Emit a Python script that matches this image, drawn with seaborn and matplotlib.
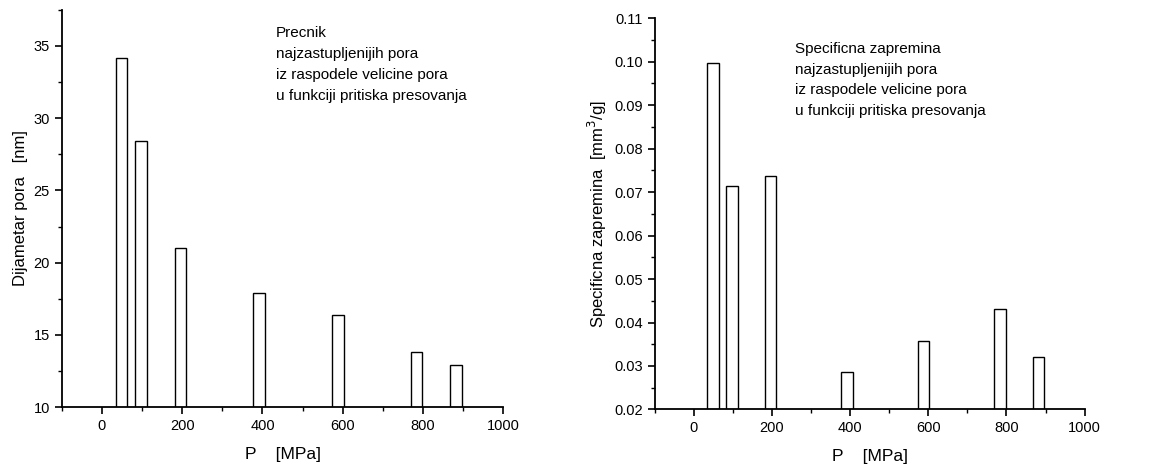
import pandas as pd
import numpy as np
import matplotlib
matplotlib.use('Agg')
import matplotlib.pyplot as plt
import seaborn as sns
from matplotlib.ticker import MultipleLocator

# pritisak presovanja [MPa]
pritisak = [49, 98, 196, 392, 588, 784, 882]
# precnik najzastupljenijih pora [nm]
precnik = [34.2, 28.4, 21.0, 17.9, 16.4, 13.8, 12.9]
# specificna zapremina [mm3/g]
zapremina = [0.0996, 0.0713, 0.0738, 0.0287, 0.0357, 0.0432, 0.0320]

df = pd.DataFrame({'P': pritisak, 'D': precnik, 'V': zapremina})

sns.set_style('ticks')
plt.rcParams['font.family'] = ['Liberation Sans', 'DejaVu Sans']
plt.rcParams['text.color'] = 'black'
plt.rcParams['axes.labelcolor'] = 'black'
plt.rcParams['xtick.direction'] = 'out'
plt.rcParams['ytick.direction'] = 'out'

fig = plt.figure(figsize=(11.65, 4.69), dpi=100)
ax1 = fig.add_axes([0.053, 0.132, 0.379, 0.847])
ax2 = fig.add_axes([0.562, 0.127, 0.369, 0.834])

sns.barplot(data=df, x='P', y='D', native_scale=True, width=0.6, color='white',
            edgecolor='black', linewidth=1, errorbar=None, ax=ax1)
sns.barplot(data=df, x='P', y='V', native_scale=True, width=0.6, color='white',
            edgecolor='black', linewidth=1, errorbar=None, ax=ax2)

ax1.set_xlim(-100, 1000)
ax1.set_ylim(10, 37.5)
ax1.yaxis.set_major_locator(MultipleLocator(5))
ax1.yaxis.set_minor_locator(MultipleLocator(2.5))
ax2.set_xlim(-100, 1000)
ax2.set_ylim(0.02, 0.11)
ax2.yaxis.set_major_locator(MultipleLocator(0.01))
ax2.yaxis.set_minor_locator(MultipleLocator(0.005))
ax2.yaxis.set_major_formatter(matplotlib.ticker.FormatStrFormatter('%.2f'))

for ax in (ax1, ax2):
    ax.xaxis.set_major_locator(MultipleLocator(200))
    ax.xaxis.set_minor_locator(MultipleLocator(100))
    ax.set_xticks([0, 200, 400, 600, 800, 1000])
    sns.despine(ax=ax)
    for s in ('left', 'bottom'):
        ax.spines[s].set_linewidth(1.3)
        ax.spines[s].set_color('black')
    ax.tick_params(which='major', length=5, width=1.2, labelsize=10.5,
                   colors='black', labelcolor='black')
    ax.tick_params(which='minor', length=3, width=1.0, colors='black')
    ax.set_xlabel('P    [MPa]', fontsize=12.5, labelpad=10)

ax1.set_ylabel('Dijametar pora   [nm]', fontsize=12, labelpad=4)
ax2.set_ylabel('Specificna zapremina  [mm$^3$/g]', fontsize=12, labelpad=4)

ax1.text(276 / 1165, 1 - 26 / 469,
         'Precnik\nnajzastupljenijih pora\niz raspodele velicine pora\nu funkciji pritiska presovanja',
         transform=fig.transFigure, ha='left', va='top', fontsize=11, linespacing=1.65)
ax2.text(795 / 1165, 1 - 42 / 469,
         'Specificna zapremina\nnajzastupljenijih pora\niz raspodele velicine pora\nu funkciji pritiska presovanja',
         transform=fig.transFigure, ha='left', va='top', fontsize=11, linespacing=1.6)

fig.savefig('out.png', dpi=100)
